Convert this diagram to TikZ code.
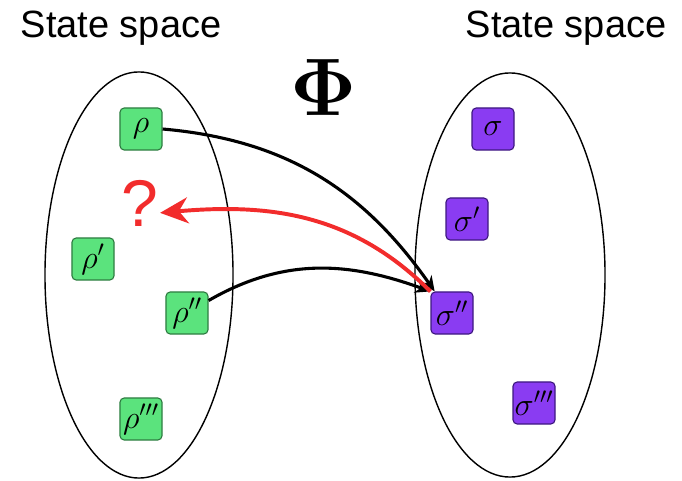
\RequirePackage{fix-cm}
\documentclass[tikz,border=0pt]{standalone}
\usepackage{amsmath}
\usepackage[no-math]{fontspec}
\setsansfont{Liberation Sans}
\usepackage{tikz}
\usetikzlibrary{arrows.meta}
\definecolor{rhofill}{HTML}{5BE37D}
\definecolor{rhodraw}{HTML}{2F7D42}
\definecolor{sigfill}{HTML}{8A3CF2}
\definecolor{sigdraw}{HTML}{3E1880}
\definecolor{queryred}{HTML}{F22C2C}
\tikzset{
  statebox/.style={draw, rounded corners=3pt, line width=0.8pt,
    minimum size=1.05cm, inner sep=0pt, font=\fontsize{23}{26}\selectfont},
  rhobox/.style={statebox, draw=rhodraw, fill=rhofill},
  sigbox/.style={statebox, draw=sigdraw, fill=sigfill},
  spacering/.style={line width=1pt},
  titlelabel/.style={font=\sffamily\fontsize{27}{30}\selectfont, anchor=base},
  arr/.style={-{Stealth[length=3.8mm, width=3.4mm]}, line width=2.2pt},
  redarr/.style={-{Stealth[length=7mm, width=6.5mm]}, line width=2.8pt, draw=queryred}
}
\begin{document}
\begin{tikzpicture}[x=0.025cm, y=0.025cm]
    \useasboundingbox (0,0) rectangle (682,480);
    % the two state spaces
    \draw[spacering] (139,205) ellipse [x radius=2.35cm, y radius=5.075cm];
    \draw[spacering] (510,205) ellipse [x radius=2.375cm, y radius=5.05cm];
    \node[titlelabel] (lefttitle) at (121,442) {State space};
    \node[titlelabel] (righttitle) at (566,442) {State space};
    \node[font=\fontsize{58}{62}\selectfont] (map) at (324,392) {$\mathbf{\Phi}$};
    % states
    \node[rhobox] (rho) at (141,351) {$\rho$};
    \node[rhobox] (rho1) at (93,221) {$\rho'$};
    \node[rhobox] (rho2) at (187,167) {$\rho''$};
    \node[rhobox] (rho3) at (141,61) {$\rho'''$};
    \node[sigbox] (sig) at (493,351) {$\sigma$};
    \node[sigbox] (sig1) at (467,261) {$\sigma'$};
    \node[sigbox] (sig2) at (452,167) {$\sigma''$};
    \node[sigbox] (sig3) at (534,77) {$\sigma'''$};
    \node[font=\sffamily\fontsize{47}{50}\selectfont, text=queryred, inner sep=1pt] (query) at (140,277) {?};
    % maps
    \draw[arr] (rho.east) to[out=-5, in=125] ([xshift=3pt]sig2.north west);
    \draw[arr] (rho2.30) to[out=30, in=160] (sig2.north west);
    \draw[redarr] (sig2.north west) to[out=135, in=5] ([yshift=-7pt]query.east);
\end{tikzpicture}
\end{document}
